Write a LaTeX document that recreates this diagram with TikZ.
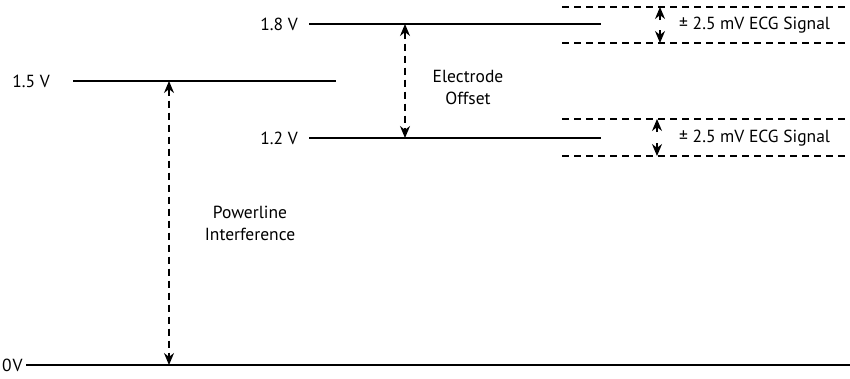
\documentclass[tikz,border=0pt]{standalone}
\usepackage{fontspec}
\setmainfont{PT Sans}
\usetikzlibrary{arrows.meta}

\begin{document}
\begin{tikzpicture}[
  x = 1pt, y = -1pt,
  every node/.style = {font=\fontsize{17.5}{22}\selectfont, inner sep=2pt, align=center},
  level/.style = {draw, line width=1.5pt},
  band/.style  = {draw, line width=1.2pt, dash pattern=on 7pt off 5pt},
  span/.style  = {draw, line width=1.2pt, dash pattern=on 7pt off 5pt,
                  {Stealth[length=12pt,width=10pt]}-{Stealth[length=12pt,width=10pt]}},
  tip/.style   = {draw, line width=1.2pt, -{Stealth[length=12pt,width=10pt]}},
]
\useasboundingbox (0,0) rectangle (850,378);

% voltage labels
\node[anchor=west, inner sep=0pt] (v0) at (2,365) {0\kern1pt V};
\node[anchor=east] (v15) at ( 52, 81) {1.5 V};
\node[anchor=east] (v18) at (300, 24) {1.8 V};
\node[anchor=east] (v12) at (300,138) {1.2 V};

% level lines
\coordinate (a0)  at ( 26,365); \coordinate (b0)  at (850,365);
\coordinate (a15) at ( 73, 81); \coordinate (b15) at (336, 81);
\coordinate (a18) at (309, 24); \coordinate (b18) at (601, 24);
\coordinate (a12) at (309,138); \coordinate (b12) at (601,138);

\foreach \l in {0, 15, 18, 12}
  \draw[level] (a\l) -- (b\l);

% signal bands
\coordinate (ht) at (562,  7); \coordinate (hb) at (562, 43);
\coordinate (lt) at (562,119); \coordinate (lb) at (562,156);

\draw[band] (ht) -- ++(288,0);
\draw[band] (hb) -- ++(288,0);
\draw[band] (lt) -- ++(285,0);
\draw[band] (lb) -- ++(285,0);

\coordinate (hu) at (660, 20); \coordinate (hut) at (660,  7);
\coordinate (hd) at (660, 30); \coordinate (hdt) at (660, 43);
\coordinate (lu) at (657,132); \coordinate (lut) at (657,119);
\coordinate (ld) at (657,143); \coordinate (ldt) at (657,156);

\foreach \s/\e in {hu/hut, hd/hdt, lu/lut, ld/ldt}
  \draw[tip] (\s) -- (\e);

\node[anchor=west] (sigh) at (677, 25) {± 2.5 mV ECG Signal};
\node[anchor=west] (sigl) at (677,138) {± 2.5 mV ECG Signal};

% offsets
\coordinate (eo) at (405, 24); \coordinate (eu) at (405,138);
\coordinate (po) at (169, 81); \coordinate (pu) at (169,365);

\draw[span] (eo) -- (eu);
\draw[span] (po) -- (pu);

\node (offs) at (468, 87) {Electrode\\Offset};
\node (pwr)  at (250,223) {Powerline\\Interference};

\end{tikzpicture}
\end{document}
